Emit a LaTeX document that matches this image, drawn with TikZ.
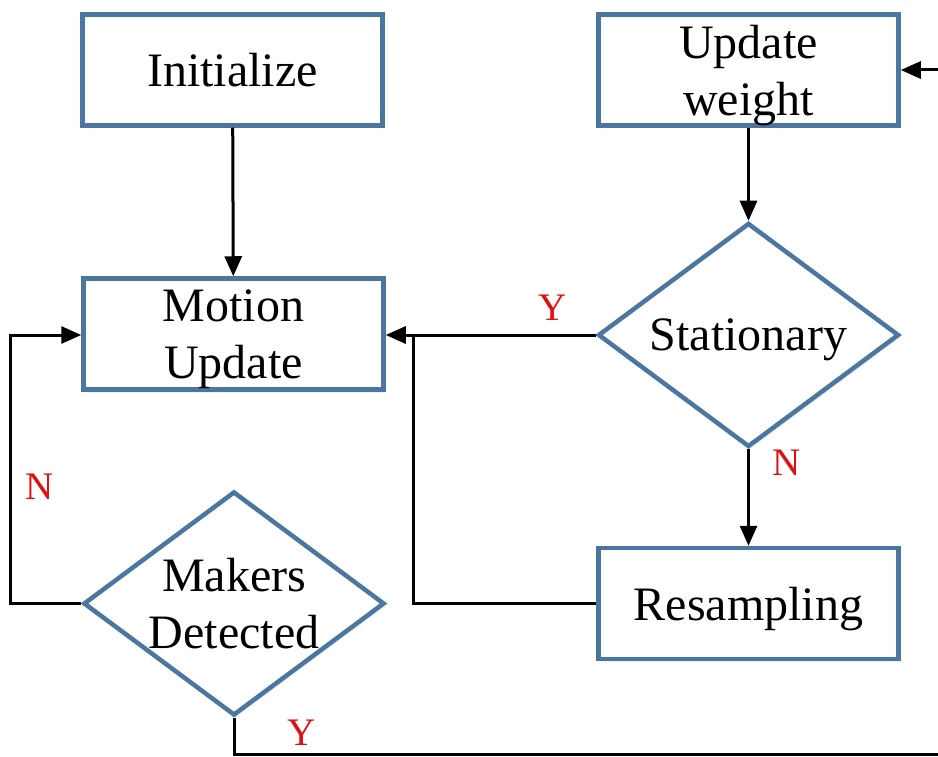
\documentclass[tikz,border=0pt]{standalone}
\usepackage{fontspec}
\setmainfont{Liberation Serif}
\usetikzlibrary{shapes.geometric,arrows.meta,shadows}
\definecolor{boxblue}{HTML}{4A76A0}
\definecolor{lblred}{HTML}{E01010}
\begin{document}
\begin{tikzpicture}[x=1pt,y=1pt,
  shd/.style={drop shadow={shadow xshift=2pt,shadow yshift=-3pt,fill=boxblue!50,opacity=0.18}},
  box/.style={draw=boxblue,line width=4.5pt,fill=white,minimum width=300pt,minimum height=111pt,
    inner sep=0pt,align=center,text depth=0pt,font=\fontsize{48}{57}\selectfont,shd},
  dec/.style={diamond,draw=boxblue,line width=4.5pt,fill=white,minimum width=301pt,minimum height=224pt,
    aspect=1.34,inner sep=0pt,align=center,text depth=0pt,font=\fontsize{48}{57}\selectfont,shd},
  conn/.style={line width=3pt,-{Triangle[length=20pt,width=17pt]}},
  plain/.style={line width=3pt},
  lbl/.style={text=lblred,font=\fontsize{39}{40}\selectfont,inner sep=0pt}]
\path[use as bounding box] (0,0) rectangle (938,-757);
\clip (0,0) rectangle (938,-757);
\fill[white] (0,0) rectangle (938,-757);

\node[box] (init) at (232.5,-70) {Initialize};
\node[box] (upd) at (748.5,-70) {Update\\weight};
\node[box] (mot) at (233.5,-334) {Motion\\Update};
\node[dec] (mk) at (234,-603.5) {Makers\\Detected};
\node[dec] (st) at (748.5,-335) {Stationary};
\node[box] (rs) at (748.5,-603.5) {Resampling};

\coordinate (j) at (413,-335);
\coordinate (lc) at (10,-335);
\coordinate (br) at (946,-754.5);

\draw[conn] (init) -- (mot);
\draw[conn] (upd) -- (st);
\draw[conn] (st.west) -- (mot.east |- st.west);
\draw[conn] (st) -- (rs);
\draw[plain] (rs.west) -| (j);
\draw[conn] (mk.west) -| (lc) -- (mot.west |- lc);
\draw[conn] (mk.south) |- (br) |- (upd.east);

\node[lbl] (yst) at (553,-308) {Y};
\node[lbl] (nst) at (787,-463) {N};
\node[lbl] (nmk) at (40,-487) {N};
\node[lbl] (ymk) at (302,-733) {Y};
\end{tikzpicture}
\end{document}
